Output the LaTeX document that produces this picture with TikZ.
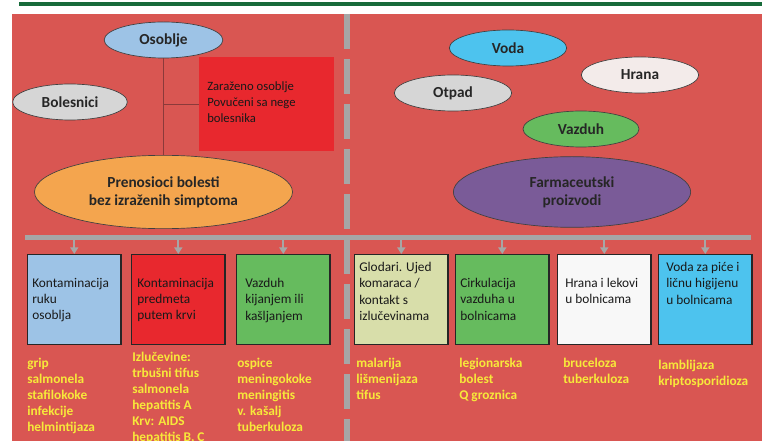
\documentclass[tikz,border=0pt]{standalone}
\usepackage{fontspec}
\setmainfont{Carlito}
\usepackage{tikz}
\usetikzlibrary{shapes.geometric}
\usetikzlibrary{arrows.meta}
\usetikzlibrary{positioning}

\definecolor{pozadina}{RGB}{217,86,82}
\definecolor{zelenaTraka}{RGB}{23,107,58}
\definecolor{sivaTraka}{RGB}{166,166,166}
\definecolor{zuta}{RGB}{247,233,58}
\definecolor{linija}{RGB}{139,58,58}
\definecolor{svetloPlava}{RGB}{157,195,230}
\definecolor{crvena}{RGB}{232,40,46}
\definecolor{siva}{RGB}{214,214,214}
\definecolor{narandzasta}{RGB}{244,165,78}
\definecolor{plava}{RGB}{77,195,238}
\definecolor{bela}{RGB}{243,235,234}
\definecolor{zelena}{RGB}{102,187,94}
\definecolor{ljubicasta}{RGB}{122,91,152}
\definecolor{maslinasta}{RGB}{216,222,170}
\definecolor{skoroBela}{RGB}{248,248,248}

\tikzset{
  elipsa/.style={ellipse, draw=black!75, line width=0.5pt, inner sep=0pt, align=center, font=\fontsize{11.5}{13.5}\selectfont\bfseries, text=black!85},
  kutija/.style={rectangle, draw=black!85, line width=0.9pt, minimum width=70pt, minimum height=67.5pt, inner sep=0pt, anchor=north west},
  tekst/.style={anchor=north west, inner sep=0pt, align=left, font=\fontsize{10}{12.2}\selectfont, text=black!90, execute at begin node=\strut},
  bolest/.style={anchor=north west, inner sep=0pt, align=left, font=\fontsize{10}{12}\selectfont\bfseries, text=zuta, execute at begin node=\strut},
  strelica/.style={draw=sivaTraka, line width=1.5pt, -{Triangle[width=6pt,length=5pt]}},
  veza/.style={draw=linija, line width=0.8pt}
}

\begin{document}
\begin{tikzpicture}[x=0.75pt,y=0.75pt,yscale=-1,xscale=1]
  \useasboundingbox (0,0) rectangle (762,441);
  \fill[white] (0,0) rectangle (762,441);
  %Top bar
  \draw[zelenaTraka, line width=3pt] (19,4) -- (762,4);
  %Background
  \fill[pozadina] (12,14) rectangle (762,441);
  %Dashed divider
  \draw[sivaTraka, line width=4.5pt, dash pattern=on 26.25pt off 7.5pt] (347,14) -- (347,441);
  %Horizontal bar
  \draw[sivaTraka, line width=3.75pt] (25,238) -- (751,238);
  \coordinate (traka) at (0,240);

  % Ellipses left
  \node (osoblje) [elipsa, fill=svetloPlava, minimum width=89pt, minimum height=27pt] at (163.5,40) {Osoblje};
  \node (bolesnici) [elipsa, fill=siva, minimum width=86pt, minimum height=27pt] at (70,102) {Bolesnici};
  \node (prenosioci) [elipsa, fill=narandzasta, minimum width=193.5pt, minimum height=55pt] at (163.5,192) {Prenosioci bolesti\\bez izraženih simptoma};
  % Red box
  \node (zaraza) [fill=crvena, minimum width=101.25pt, minimum height=70.5pt, inner sep=0pt, anchor=north west] at (199,57) {};
  \node (zarazaTekst) [tekst, font=\fontsize{9.5}{12}\selectfont] at (207,81) {Zaraženo osoblje\\Povučeni sa nege\\bolesnika};
  %Straight Lines
  \draw[veza] (osoblje.south) -- (prenosioci.north);
  \draw[veza] (osoblje.south |- zaraza.west) -- (zaraza.west);

  % Ellipses right
  \node (voda) [elipsa, fill=plava, minimum width=88pt, minimum height=27pt] at (508,48) {Voda};
  \node (hrana) [elipsa, fill=bela, minimum width=88pt, minimum height=27pt] at (640,75) {Hrana};
  \node (otpad) [elipsa, fill=siva, minimum width=88pt, minimum height=27pt] at (453,93) {Otpad};
  \node (vazduh) [elipsa, fill=zelena, minimum width=87pt, minimum height=27pt] at (581,129) {Vazduh};
  \node (farmacija) [elipsa, fill=ljubicasta, minimum width=178pt, minimum height=53pt] at (572,192) {Farmaceutski\\proizvodi};

  % Boxes
  \node (k1) [kutija, fill=svetloPlava] at (27,254) {};
  \node (k2) [kutija, fill=crvena] at (131,254) {};
  \node (k3) [kutija, fill=zelena] at (236,254) {};
  \node (k4) [kutija, fill=maslinasta] at (354,254) {};
  \node (k5) [kutija, fill=zelena] at (455,254) {};
  \node (k6) [kutija, fill=skoroBela] at (557,254) {};
  \node (k7) [kutija, fill=plava] at (658,254) {};

  % Arrows
  \draw[strelica] (k1.north |- traka) -- (k1.north);
  \draw[strelica] (k2.north |- traka) -- (k2.north);
  \draw[strelica] (k3.north |- traka) -- (k3.north);
  \draw[strelica] (k4.north |- traka) -- (k4.north);
  \draw[strelica] (k5.north |- traka) -- (k5.north);
  \draw[strelica] (k6.north |- traka) -- (k6.north);
  \draw[strelica] (k7.north |- traka) -- (k7.north);

  % Text Node
  \node (t1) [tekst] at (32,278) {Kontaminacija\\ruku\\osoblja};
  \node (t2) [tekst] at (137,278) {Kontaminacija\\predmeta\\putem krvi};
  \node (t3) [tekst] at (245,278) {Vazduh\\kijanjem ili\\kašljanjem};
  \node (t4) [tekst] at (359,262) {Glodari. Ujed\\komaraca /\\kontakt s\\izlučevinama};
  \node (t5) [tekst] at (460,278) {Cirkulacija\\vazduha u\\bolnicama};
  \node (t6) [tekst] at (565,278) {Hrana i lekovi\\u bolnicama};
  \node (t7) [tekst] at (666,262) {Voda za piće i\\ličnu higijenu\\u bolnicama};

  % Yellow Text Node
  \node (b1) [bolest] at (27,358) {grip\\salmonela\\stafilokoke\\infekcije\\helmintijaza};
  \node (b2) [bolest] at (132,352) {Izlučevine:\\trbušni tifus\\salmonela\\hepatitis A\\Krv: AIDS\\hepatitis B, C};
  \node (b3) [bolest] at (237,358) {ospice\\meningokoke\\meningitis\\v. kašalj\\tuberkuloza};
  \node (b4) [bolest] at (356,358) {malarija\\lišmenijaza\\tifus};
  \node (b5) [bolest] at (459,358) {legionarska\\bolest\\Q groznica};
  \node (b6) [bolest] at (563,358) {bruceloza\\tuberkuloza};
  \node (b7) [bolest] at (658,360) {lamblijaza\\kriptosporidioza};
\end{tikzpicture}
\end{document}
